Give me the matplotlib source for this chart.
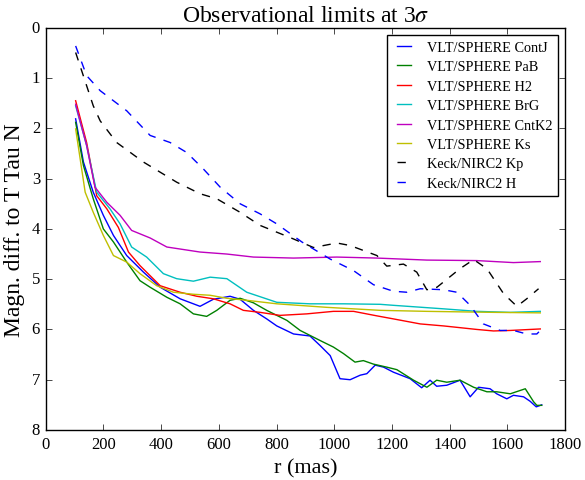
import matplotlib
matplotlib.use('Agg')
import matplotlib.pyplot as plt

# ContJ
x_contj = [104, 131, 165, 200, 235, 281, 339, 397, 466, 535, 581, 639, 674, 720, 766, 801, 859, 916, 951, 986,
           1020, 1055, 1090, 1113, 1142, 1171, 1205, 1263, 1303, 1332, 1355, 1390, 1436, 1471, 1500, 1540, 1563,
           1598, 1621, 1656, 1679, 1700, 1719]
y_contj = [1.81, 2.67, 3.27, 3.73, 4.13, 4.53, 4.86, 5.16, 5.39, 5.54, 5.40, 5.34, 5.40, 5.62, 5.79, 5.93, 6.09,
           6.13, 6.32, 6.52, 6.98, 7.00, 6.91, 6.88, 6.71, 6.75, 6.85, 6.98, 7.16, 7.01, 7.13, 7.11, 7.01, 7.34,
           7.15, 7.18, 7.28, 7.38, 7.31, 7.34, 7.43, 7.54, 7.50]

# PaB
x_pab = [104, 131, 165, 200, 235, 281, 327, 362, 420, 466, 512, 558, 593, 639, 674, 720, 766, 836, 882, 951,
         997, 1032, 1072, 1101, 1136, 1182, 1217, 1275, 1321, 1355, 1390, 1436, 1483, 1529, 1563, 1610, 1662,
         1691, 1702, 1719]
y_pab = [1.88, 2.74, 3.40, 4.00, 4.26, 4.66, 5.03, 5.16, 5.36, 5.49, 5.69, 5.74, 5.62, 5.42, 5.38, 5.47, 5.62,
         5.82, 6.02, 6.22, 6.35, 6.48, 6.65, 6.62, 6.69, 6.75, 6.80, 7.01, 7.15, 7.01, 7.05, 7.01, 7.15, 7.24,
         7.24, 7.28, 7.18, 7.44, 7.51, 7.51]

# H2
x_h2 = [104, 142, 177, 212, 252, 287, 327, 397, 466, 524, 581, 639, 685, 743, 812, 905, 997, 1067, 1148, 1205,
        1298, 1379, 1494, 1552, 1610, 1714]
y_h2 = [1.45, 2.28, 3.34, 3.60, 3.97, 4.46, 4.73, 5.13, 5.26, 5.34, 5.39, 5.49, 5.62, 5.66, 5.72, 5.69, 5.64,
        5.64, 5.73, 5.79, 5.89, 5.93, 6.00, 6.03, 6.02, 5.99]

# BrG
x_brg = [104, 142, 177, 223, 258, 298, 350, 408, 454, 512, 570, 628, 697, 801, 916, 1032, 1159, 1205, 1379,
         1494, 1610, 1714]
y_brg = [1.55, 2.34, 3.27, 3.60, 3.90, 4.36, 4.56, 4.89, 4.99, 5.04, 4.96, 4.99, 5.26, 5.46, 5.49, 5.49, 5.50,
         5.52, 5.59, 5.64, 5.66, 5.64]

# CntK2
x_cntk2 = [104, 142, 171, 212, 258, 298, 362, 420, 535, 628, 720, 859, 1009, 1148, 1321, 1494, 1621, 1714]
y_cntk2 = [1.52, 2.34, 3.17, 3.47, 3.73, 4.03, 4.18, 4.36, 4.46, 4.50, 4.56, 4.58, 4.56, 4.58, 4.62, 4.63,
           4.67, 4.65]

# Ks
x_ks = [104, 137, 165, 200, 235, 281, 327, 385, 443, 512, 570, 628, 697, 801, 974, 1159, 1321, 1552, 1714]
y_ks = [2.01, 3.27, 3.67, 4.13, 4.53, 4.66, 4.89, 5.13, 5.26, 5.30, 5.32, 5.38, 5.42, 5.49, 5.56, 5.62, 5.64,
        5.66, 5.67]

# Keck Kp
x_kp = [104, 165, 189, 246, 339, 454, 535, 593, 674, 743, 859, 928, 1009, 1055, 1148, 1182, 1240, 1286, 1321,
        1356, 1436, 1483, 1529, 1587, 1633, 1667, 1708]
y_kp = [0.49, 1.55, 1.85, 2.28, 2.67, 3.07, 3.30, 3.40, 3.67, 3.93, 4.20, 4.37, 4.28, 4.33, 4.53, 4.74, 4.70,
        4.86, 5.21, 5.16, 4.79, 4.61, 4.79, 5.29, 5.54, 5.39, 5.19]

# Keck H
x_kh = [104, 142, 189, 281, 362, 431, 489, 547, 605, 674, 743, 801, 888, 986, 1067, 1136, 1205, 1252, 1298,
        1379, 1425, 1471, 1517, 1575, 1621, 1667, 1702, 1714]
y_kh = [0.36, 0.95, 1.25, 1.65, 2.14, 2.28, 2.48, 2.81, 3.17, 3.50, 3.70, 3.90, 4.26, 4.60, 4.83, 5.11, 5.24,
        5.26, 5.19, 5.21, 5.26, 5.52, 5.89, 6.02, 6.02, 6.09, 6.09, 6.02]

plt.style.use('classic')
plt.rcParams['font.family'] = 'serif'
plt.rcParams['font.serif'] = ['Liberation Serif', 'DejaVu Serif']
plt.rcParams['mathtext.fontset'] = 'stix'

fig = plt.figure(figsize=(5.85, 4.81), dpi=100, facecolor='white')
ax = fig.add_axes([0.078, 0.104, 0.888, 0.836])

ax.plot(x_contj, y_contj, 'b-', label='VLT/SPHERE ContJ')
ax.plot(x_pab, y_pab, 'g-', label='VLT/SPHERE PaB')
ax.plot(x_h2, y_h2, 'r-', label='VLT/SPHERE H2')
ax.plot(x_brg, y_brg, 'c-', label='VLT/SPHERE BrG')
ax.plot(x_cntk2, y_cntk2, 'm-', label='VLT/SPHERE CntK2')
ax.plot(x_ks, y_ks, 'y-', label='VLT/SPHERE Ks')
ax.plot(x_kp, y_kp, 'k--', label='Keck/NIRC2 Kp')
ax.plot(x_kh, y_kh, 'b--', label='Keck/NIRC2 H')

ax.set_xlim(0, 1800)
ax.set_ylim(8, 0)
ax.set_xticks(range(0, 1801, 200))
ax.set_yticks(range(0, 9))
ax.tick_params(labelsize=12)
ax.set_xlabel('r (mas)', fontsize=16)
ax.set_ylabel('Magn. diff. to T Tau N', fontsize=17)
ax.set_title(r'Observational limits at 3$\sigma$', fontsize=17)
ax.legend(loc='upper right', fontsize=10.3, handlelength=1.6, labelspacing=0.45)

plt.savefig('out.png', dpi=100, facecolor='white')
